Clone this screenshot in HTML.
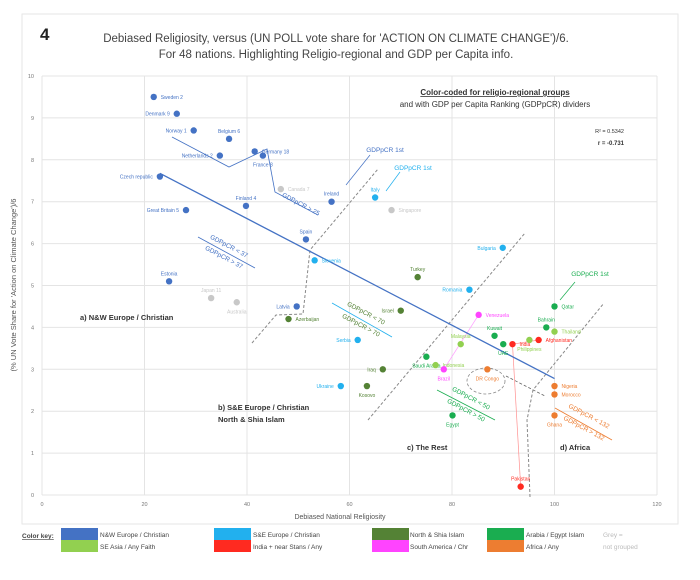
<!DOCTYPE html>
<html><head><meta charset="utf-8">
<style>
body{margin:0;background:#fff;font-family:"Liberation Sans",sans-serif;}
svg text{font-family:"Liberation Sans",sans-serif;}
</style></head>
<body>
<svg id="chart" width="700" height="575" viewBox="0 0 700 575" xmlns="http://www.w3.org/2000/svg">
<rect x="22" y="14" width="656" height="510" fill="#fff" stroke="#e6e6e6"/>
<text x="40" y="40" font-size="17" font-weight="bold" fill="#222">4</text>
<text x="336" y="42" font-size="11.5" text-anchor="middle" fill="#444">Debiased Religiosity, versus (UN POLL vote share for 'ACTION ON CLIMATE CHANGE')/6.</text>
<text x="336" y="58" font-size="11.5" text-anchor="middle" fill="#444">For 48 nations. Highlighting Religio-regional and GDP per Capita info.</text>
<g id="grid"></g>
<g id="annot"></g>
<g id="marks"></g>
<text x="340" y="519" font-size="7" text-anchor="middle" fill="#555">Debiased National Religiosity</text>
<text transform="translate(16,285) rotate(-90)" font-size="7.5" text-anchor="middle" fill="#555">(% UN Vote Share for 'Action on Climate Change')/6</text>
<text x="495" y="95" font-size="8" font-weight="bold" text-anchor="middle" fill="#333" text-decoration="underline">Color-coded for religio-regional groups</text>
<text x="495" y="107" font-size="8" text-anchor="middle" fill="#333">and with GDP per Capita Ranking (GDPpCR) dividers</text>
<text x="624" y="133" font-size="5.5" text-anchor="end" fill="#333">R² = 0.5342</text>
<text x="624" y="145" font-size="6" font-weight="bold" text-anchor="end" fill="#333">r = -0.731</text>
<text x="80" y="320" font-size="7.5" font-weight="bold" fill="#333">a) N&amp;W Europe / Christian</text>
<text x="218" y="410" font-size="7.5" font-weight="bold" fill="#333">b) S&amp;E Europe / Christian</text>
<text x="218" y="422" font-size="7.5" font-weight="bold" fill="#333">North &amp; Shia Islam</text>
<text x="407" y="450" font-size="7.5" font-weight="bold" fill="#333">c) The Rest</text>
<text x="560" y="450" font-size="7.5" font-weight="bold" fill="#333">d) Africa</text>
<g id="legend" font-size="6.5" fill="#444">
<text x="22" y="538" font-weight="bold" text-decoration="underline">Color key:</text>
<rect x="61" y="528" width="37" height="12" fill="#4472c4"/>
<text x="100" y="537">N&amp;W Europe / Christian</text>
<rect x="61" y="540" width="37" height="12" fill="#92d050"/>
<text x="100" y="549">SE Asia / Any Faith</text>
<rect x="214" y="528" width="37" height="12" fill="#22b0ee"/>
<text x="253" y="537">S&amp;E Europe / Christian</text>
<rect x="214" y="540" width="37" height="12" fill="#ff2a20"/>
<text x="253" y="549">India + near Stans / Any</text>
<rect x="372" y="528" width="37" height="12" fill="#548235"/>
<text x="410" y="537">North &amp; Shia Islam</text>
<rect x="372" y="540" width="37" height="12" fill="#ff44ff"/>
<text x="410" y="549">South America / Chr</text>
<rect x="487" y="528" width="37" height="12" fill="#1aad50"/>
<text x="526" y="537">Arabia / Egypt Islam</text>
<rect x="487" y="540" width="37" height="12" fill="#ed7d31"/>
<text x="526" y="549">Africa / Any</text>
<text x="603" y="537" fill="#bbb">Grey =</text>
<text x="603" y="549" fill="#bbb">not grouped</text>
</g>
</svg>
<script>
const countries=["Sweden 2","Denmark 9","Norway 1","Belgium 6","Netherlands 2","Germany 18","France 8","Czech republic","Great Britain 5","Finland 4","Ireland","Spain","Estonia","Latvia","Canada 7","Japan 11","Australia","Singapore","Slovenia","Italy","Bulgaria","Romania","Serbia","Ukraine","Turkey","Azerbaijan","Israel","Iraq","Kosovo","Qatar","Bahrain","Kuwait","UAE","Saudi Arabia","Egypt","Thailand","Philippines","Malaysia","Indonesia","India","Afghanistan","Pakistan","Venezuela","Brazil","DR Congo","Nigeria","Morocco","Ghana"];
const religiosity=[21.8,26.3,29.6,36.5,34.7,41.5,43.1,23,28.1,39.8,56.5,51.5,24.8,49.7,46.6,33,38,68.2,53.2,65,89.9,83.4,61.6,58.3,73.3,48.1,70,66.5,63.4,100,98.4,88.3,90,75,80.1,100,95.1,81.7,76.8,91.8,96.9,93.4,85.2,78.4,86.9,100,100,100];
const voteShare=[9.5,9.1,8.7,8.5,8.1,8.2,8.1,7.6,6.8,6.9,7.0,6.1,5.1,4.5,7.3,4.7,4.6,6.8,5.6,7.1,5.9,4.9,3.7,2.6,5.2,4.2,4.4,3.0,2.6,4.5,4.0,3.8,3.6,3.3,1.9,3.9,3.7,3.6,3.1,3.6,3.7,0.2,4.3,3.0,3.0,2.6,2.4,1.9];
const groups=["nw","nw","nw","nw","nw","nw","nw","nw","nw","nw","nw","nw","nw","nw","grey","grey","grey","grey","se","se","se","se","se","se","ns","ns","ns","ns","ns","ar","ar","ar","ar","ar","ar","sea","sea","sea","sea","ind","ind","ind","sam","sam","afr","afr","afr","afr"];
const trendCoef=[9.14,-0.0636];
const trendRange=[23,100];
const xTicks=[0,20,40,60,80,100,120];
const yTicks=[0,1,2,3,4,5,6,7,8,9,10];
const colors={nw:"#4472c4",se:"#22b0ee",ns:"#548235",ar:"#1aad50",sea:"#92d050",ind:"#ff2a20",sam:"#ff44ff",afr:"#ed7d31",grey:"#c8c8c8"};
const labelLeft=["Denmark 9","Norway 1","Netherlands 2","Czech republic","Great Britain 5","Latvia","Bulgaria","Romania","Serbia","Ukraine","Israel","Iraq"];
const labelAbove=["Belgium 6","Finland 4","Ireland","Spain","Estonia","Japan 11","Italy","Turkey","Kuwait","Malaysia","Bahrain","Pakistan"];
const labelBelow=["France 8","Australia","Kosovo","Egypt","UAE","Brazil","Ghana","Philippines","DR Congo","Saudi Arabia"];
const X0=42,X1=657,Y0=495,Y1=76;
const sx=v=>X0+v/120*(X1-X0);
const sy=v=>Y0-v/10*(Y0-Y1);
const NS="http://www.w3.org/2000/svg";
function mk(tag,attrs,parent){const e=document.createElementNS(NS,tag);for(const k in attrs)e.setAttribute(k,attrs[k]);parent.appendChild(e);return e;}
const grid=document.getElementById('grid'),annot=document.getElementById('annot'),marks=document.getElementById('marks');
yTicks.forEach(t=>{
 const l=mk('line',{x1:X0,x2:X1,y1:sy(t),y2:sy(t),stroke:'#e4e4e4','stroke-width':1},grid);
 
 
 const tx=mk('text',{x:X0-8,y:sy(t)+2,'font-size':5.5,fill:'#777','text-anchor':'end'},grid);tx.textContent=t;
 
 
});
xTicks.forEach(t=>{
 const l=mk('line',{x1:sx(t),x2:sx(t),y1:Y1,y2:Y0,stroke:'#e4e4e4','stroke-width':1},grid);
 
 
 const tx=mk('text',{x:sx(t),y:Y0+11,'font-size':5.5,fill:'#777','text-anchor':'middle'},grid);tx.textContent=t;
 
 
});
function pl(pts,attrs,name){const e=mk('polyline',Object.assign({points:pts,fill:'none'},attrs),annot);return e;}
function tx(x,y,s,fill,rot,name,size){const e=mk('text',{x:x,y:y,'font-size':size||6.5,fill:fill,'text-anchor':'middle',transform:rot?`rotate(${rot} ${x} ${y})`:''},annot);e.textContent=s;return e;}
const dash={stroke:'#888','stroke-width':1,'stroke-dasharray':'3,2'};
pl("252,343 276,315 303,314 310,250 378,169",dash,'divider-ab');
pl("368,420 525,233",dash,'divider-bc');
pl("530,497 527,420 533,390 604,303",dash,'divider-cd');
pl("172,137 229,167 267,149 275,192 318,215",{stroke:'#4472c4','stroke-width':0.8},'gdp-divider-nw-25');
tx(300,206,'GDPpCR > 25','#4472c4',28,'gdp-label-nw-25');
pl("198,237 255,268",{stroke:'#4472c4','stroke-width':0.8},'gdp-divider-nw-37');
tx(228,248,'GDPpCR < 37','#4472c4',28,'gdp-label-nw-lt37');
tx(223,259,'GDPpCR > 37','#4472c4',28,'gdp-label-nw-gt37');
pl("332,303 392,337",{stroke:'#22b0ee','stroke-width':0.8},'gdp-divider-se-70');
tx(365,315,'GDPpCR < 70','#548235',28,'gdp-label-ns-lt70');
tx(360,327,'GDPpCR > 70','#548235',28,'gdp-label-ns-gt70');
pl("437,390 495,420",{stroke:'#1aad50','stroke-width':0.8},'gdp-divider-ar-50');
tx(470,400,'GDPpCR < 50','#1aad50',28,'gdp-label-ar-lt50');
tx(465,412,'GDPpCR > 50','#1aad50',28,'gdp-label-ar-gt50');
pl("555,408 612,440",{stroke:'#ed7d31','stroke-width':0.8},'gdp-divider-afr-132');
tx(588,418,'GDPpCR < 132','#ed7d31',28,'gdp-label-afr-lt132');
tx(583,430,'GDPpCR > 132','#ed7d31',28,'gdp-label-afr-gt132');
tx(385,152,'GDPpCR 1st','#4472c4',0,'gdp-first-label-nw');
pl("370,155 346,185",{stroke:'#4472c4','stroke-width':0.7},'gdp-first-arrow-nw');
tx(413,170,'GDPpCR 1st','#22b0ee',0,'gdp-first-label-se');
pl("400,172 386,191",{stroke:'#22b0ee','stroke-width':0.7},'gdp-first-arrow-se');
tx(590,276,'GDPpCR 1st','#1aad50',0,'gdp-first-label-ar');
pl("575,282 560,300",{stroke:'#1aad50','stroke-width':0.7},'gdp-first-arrow-ar');
const ell=mk('ellipse',{cx:486,cy:381,rx:19,ry:13,fill:'none',stroke:'#888','stroke-width':0.8,'stroke-dasharray':'3,2'},annot);


pl("506,376 545,396",{stroke:'#666','stroke-width':0.8,'stroke-dasharray':'3,2'},'dr-congo-arrow');
function link(a,b,col,name){const i=countries.indexOf(a),j=countries.indexOf(b);const l=mk('line',{x1:sx(religiosity[i]),y1:sy(voteShare[i]),x2:sx(religiosity[j]),y2:sy(voteShare[j]),stroke:col,'stroke-width':0.7},annot);}
link('Venezuela','Brazil','#ff9cff','link-venezuela-brazil');
link('India','Pakistan','#ff9090','link-india-pakistan');
link('India','Afghanistan','#ff9090','link-india-afghanistan');
const tf=x=>trendCoef[0]+trendCoef[1]*x;
const tl=mk('line',{x1:sx(trendRange[0]),y1:sy(tf(trendRange[0])),x2:sx(trendRange[1]),y2:sy(tf(trendRange[1])),stroke:'#4472c4','stroke-width':1.3},annot);


countries.forEach((c,i)=>{
 const px=sx(religiosity[i]),py=sy(voteShare[i]),col=colors[groups[i]];
 const dot=mk('circle',{cx:px,cy:py,r:3.2,fill:col},marks);
 
 
 let lx=px+7,ly=py+2,anchor='start';
 if(labelLeft.includes(c)){lx=px-7;anchor='end';}
 if(labelAbove.includes(c)){lx=px;ly=py-6;anchor='middle';}
 if(labelBelow.includes(c)){lx=px;ly=py+11;anchor='middle';}
 const lab=mk('text',{x:lx,y:ly,'font-size':5,fill:col,'text-anchor':anchor},marks);
 lab.textContent=c;
 
 
});
</script>
</body></html>
